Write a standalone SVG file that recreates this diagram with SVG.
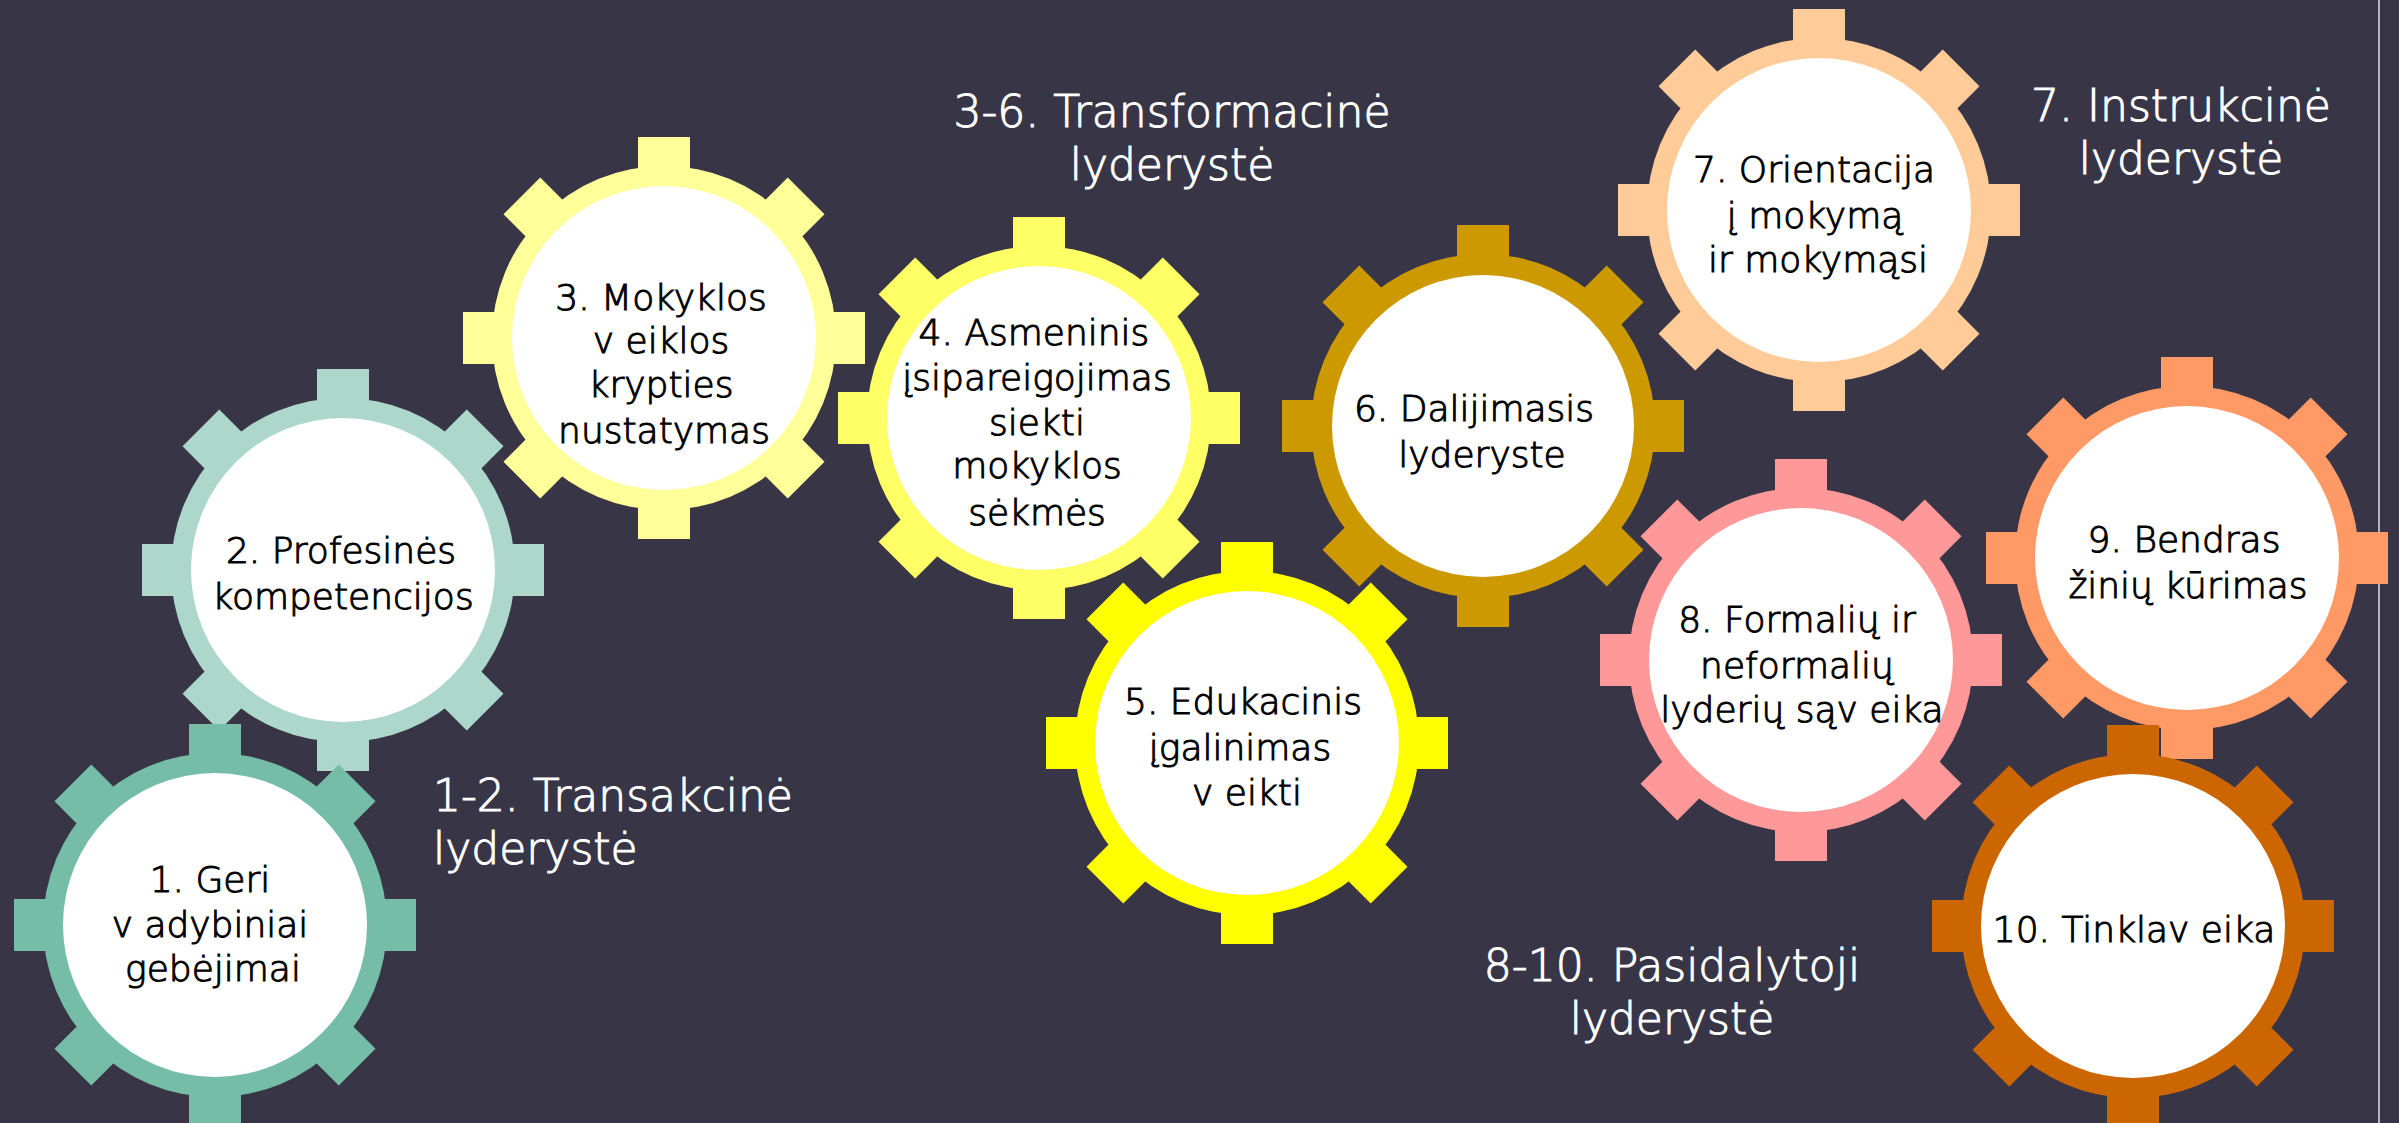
<svg xmlns="http://www.w3.org/2000/svg" xmlns:xlink="http://www.w3.org/1999/xlink" width="2399" height="1123" viewBox="0 0 2399 1123">
<style>
.lbl{font-family:"DejaVu Sans","Liberation Sans",sans-serif;font-size:36px;font-weight:300;fill:#000;stroke:#000;stroke-width:1;text-anchor:middle}
.ttl{font-family:"DejaVu Sans","Liberation Sans",sans-serif;font-size:44px;font-weight:300;fill:#ffffff;stroke:#ffffff;stroke-width:1}
.inner{fill:#ffffff}
</style>
<defs>
<g id="gear">
<circle r="172"/>
<rect x="-26" y="-201" width="52" height="60"/>
<rect x="-26" y="-201" width="52" height="60" transform="rotate(45)"/>
<rect x="-26" y="-201" width="52" height="60" transform="rotate(90)"/>
<rect x="-26" y="-201" width="52" height="60" transform="rotate(135)"/>
<rect x="-26" y="-201" width="52" height="60" transform="rotate(180)"/>
<rect x="-26" y="-201" width="52" height="60" transform="rotate(225)"/>
<rect x="-26" y="-201" width="52" height="60" transform="rotate(270)"/>
<rect x="-26" y="-201" width="52" height="60" transform="rotate(315)"/>
</g>
</defs>
<rect width="2399" height="1123" fill="#383547"/>
<line x1="2379" y1="0" x2="2379" y2="1123" stroke="#b4b4be" stroke-width="2"/>

<g id="titles">
<text class="ttl" x="433" y="811">1-2. Transakcinė</text>
<text class="ttl" x="433" y="864">lyderystė</text>
<text class="ttl" x="1172" y="127" text-anchor="middle">3-6. Transformacinė</text>
<text class="ttl" x="1172" y="180" text-anchor="middle">lyderystė</text>
<text class="ttl" x="2181" y="121" text-anchor="middle">7. Instrukcinė</text>
<text class="ttl" x="2181" y="174" text-anchor="middle">lyderystė</text>
<text class="ttl" x="1672" y="981" text-anchor="middle">8-10. Pasidalytoji</text>
<text class="ttl" x="1672" y="1034" text-anchor="middle">lyderystė</text>
</g>

<g id="connectors"></g>

<g id="node2">
<use xlink:href="#gear" href="#gear" x="343" y="570" fill="#acd7ca"/>
<circle class="inner" cx="343" cy="570" r="152"/>
<text class="lbl" x="341" y="563">2. Profesinės</text>
<text class="lbl" x="343" y="609">kompetencijos</text>
</g>

<g id="node1">
<use xlink:href="#gear" href="#gear" x="215" y="925" fill="#75bda7"/>
<circle class="inner" cx="215" cy="925" r="152"/>
<text class="lbl" x="210" y="892">1. Geri</text>
<text class="lbl" x="210" y="937">v adybiniai</text>
<text class="lbl" x="213" y="981">gebėjimai</text>
</g>

<g id="node3">
<use xlink:href="#gear" href="#gear" x="664" y="338" fill="#ffff99"/>
<circle class="inner" cx="664" cy="338" r="152"/>
<text class="lbl" x="661" y="310">3. Mokyklos</text>
<text class="lbl" x="661" y="353">v eiklos</text>
<text class="lbl" x="661" y="397">krypties</text>
<text class="lbl" x="664" y="443">nustatymas</text>
</g>

<g id="node4">
<use xlink:href="#gear" href="#gear" x="1039" y="418" fill="#ffff66"/>
<circle class="inner" cx="1039" cy="418" r="152"/>
<text class="lbl" x="1034" y="345">4. Asmeninis</text>
<text class="lbl" x="1037" y="390">įsipareigojimas</text>
<text class="lbl" x="1037" y="435">siekti</text>
<text class="lbl" x="1037" y="478">mokyklos</text>
<text class="lbl" x="1037" y="525">sėkmės</text>
</g>

<g id="node6">
<use xlink:href="#gear" href="#gear" x="1483" y="426" fill="#cc9900"/>
<circle class="inner" cx="1483" cy="426" r="151"/>
<text class="lbl" x="1474" y="421">6. Dalijimasis</text>
<text class="lbl" x="1482" y="467">lyderyste</text>
</g>

<g id="node5">
<use xlink:href="#gear" href="#gear" x="1247" y="743" fill="#ffff00"/>
<circle class="inner" cx="1247" cy="743" r="152"/>
<text class="lbl" x="1243" y="714">5. Edukacinis</text>
<text class="lbl" x="1240" y="760">įgalinimas</text>
<text class="lbl" x="1247" y="805">v eikti</text>
</g>

<g id="node7">
<use xlink:href="#gear" href="#gear" x="1819" y="210" fill="#ffcc99"/>
<circle class="inner" cx="1819" cy="210" r="152"/>
<text class="lbl" x="1814" y="182">7. Orientacija</text>
<text class="lbl" x="1815" y="228">į mokymą</text>
<text class="lbl" x="1818" y="272">ir mokymąsi</text>
</g>

<g id="node8">
<use xlink:href="#gear" href="#gear" x="1801" y="660" fill="#ff9999"/>
<circle class="inner" cx="1801" cy="660" r="152"/>
<text class="lbl" x="1797" y="632">8. Formalių ir</text>
<text class="lbl" x="1797" y="678">neformalių</text>
<text class="lbl" x="1802" y="722">lyderių sąv eika</text>
</g>

<g id="node9">
<use xlink:href="#gear" href="#gear" x="2187" y="558" fill="#ff9966"/>
<circle class="inner" cx="2187" cy="558" r="152"/>
<text class="lbl" x="2184" y="552">9. Bendras</text>
<text class="lbl" x="2188" y="598">žinių kūrimas</text>
</g>

<g id="node10">
<use xlink:href="#gear" href="#gear" x="2133" y="926" fill="#cc6600"/>
<circle class="inner" cx="2133" cy="926" r="152"/>
<text class="lbl" x="2134" y="942">10. Tinklav eika</text>
</g>
</svg>
